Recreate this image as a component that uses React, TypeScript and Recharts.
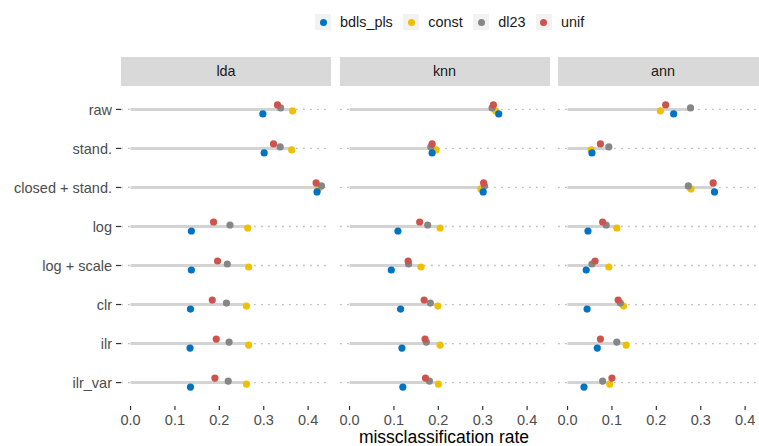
import React from 'react';
import { ScatterChart, Scatter, XAxis, YAxis, CartesianGrid, ReferenceLine } from 'recharts';

const methods = ['raw', 'stand.', 'closed + stand.', 'log', 'log + scale', 'clr', 'ilr', 'ilr_var'];
const facets = ['lda', 'knn', 'ann'];
const seriesNames = ['bdls_pls', 'const', 'dl23', 'unif'];
const xTicks = [0, 0.1, 0.2, 0.3, 0.4];

// missclassification rate per facet, one array per imputation method (order = methods)
const ldaBdls = [0.298, 0.301, 0.420, 0.137, 0.137, 0.135, 0.134, 0.135];
const ldaConst = [0.365, 0.363, 0.423, 0.264, 0.266, 0.261, 0.266, 0.261];
const ldaDl23 = [0.338, 0.337, 0.430, 0.224, 0.218, 0.216, 0.222, 0.220];
const ldaUnif = [0.331, 0.322, 0.418, 0.187, 0.196, 0.184, 0.193, 0.190];

const knnBdls = [0.336, 0.186, 0.301, 0.109, 0.094, 0.115, 0.118, 0.120];
const knnConst = [0.329, 0.195, 0.296, 0.204, 0.161, 0.199, 0.204, 0.200];
const knnDl23 = [0.321, 0.183, 0.304, 0.176, 0.133, 0.182, 0.173, 0.180];
const knnUnif = [0.324, 0.186, 0.302, 0.158, 0.132, 0.168, 0.170, 0.171];

const annBdls = [0.239, 0.055, 0.331, 0.046, 0.042, 0.044, 0.067, 0.037];
const annConst = [0.209, 0.053, 0.278, 0.111, 0.093, 0.126, 0.132, 0.095];
const annDl23 = [0.277, 0.093, 0.272, 0.087, 0.055, 0.119, 0.111, 0.079];
const annUnif = [0.221, 0.074, 0.328, 0.079, 0.062, 0.114, 0.074, 0.100];

const facetValues = [
  [ldaBdls, ldaConst, ldaDl23, ldaUnif],
  [knnBdls, knnConst, knnDl23, knnUnif],
  [annBdls, annConst, annDl23, annUnif],
];

const colors = ['#0073C2', '#EFC000', '#868686', '#CD534C'];
const dodge = [4.5, 1.5, -1.5, -4.5]; // px, vertical dodge per series
const drawOrder = [1, 2, 0, 3];

const FONT = '"Liberation Sans", Arial, sans-serif';

const DodgeDot = (props: any) => {
  const { cx, cy, fill, offset } = props;
  if (cx == null || cy == null) return null;
  return <circle cx={cx} cy={cy + offset} r={3.6} fill={fill} />;
};

// grid only at the category rows, computed with the y axis scale
const rowGrid = (props: any) => {
  const scale = props?.yAxis?.scale;
  if (!scale) return [];
  const fn = typeof scale === 'function' ? scale : scale.map;
  return methods.map((_, i) => fn(i));
};

const Panel = ({ idx, left, width, showY }: { idx: number; left: number; width: number; showY: boolean }) => {
  const vals = facetValues[idx];
  const maxes = methods.map((_, i) => Math.max(...vals.map((s) => s[i])));
  return (
    <div style={{ position: 'absolute', left, top: 76 }}>
      <ScatterChart width={width} height={370} margin={{ top: 10, right: 0, bottom: 0, left: 0 }}>
        <CartesianGrid
          vertical={false}
          stroke="#bebebe"
          strokeWidth={1.3}
          strokeDasharray="1.75 5.25"
          horizontalCoordinatesGenerator={rowGrid}
        />
        <XAxis
          type="number"
          dataKey="v"
          domain={[-0.0215, 0.4515]}
          ticks={xTicks}
          allowDataOverflow
          tickFormatter={(v: number) => v.toFixed(1)}
          axisLine={false}
          tickSize={4}
          tickMargin={5}
          height={40}
          tickLine={{ stroke: '#333333', strokeWidth: 1.2 }}
          tick={{ fill: '#4d4d4d', fontSize: 14.5, fontFamily: FONT }}
        />
        <YAxis
          type="number"
          dataKey="row"
          domain={[-0.6, 7.6]}
          reversed
          ticks={methods.map((_, i) => i)}
          interval={0}
          allowDataOverflow
          hide={!showY}
          width={121}
          axisLine={false}
          tickSize={5}
          tickMargin={4}
          tickLine={{ stroke: '#333333', strokeWidth: 1.2 }}
          tickFormatter={(i: number) => methods[i]}
          tick={{ fill: '#4d4d4d', fontSize: 14.5, fontFamily: FONT }}
        />
        {methods.map((m, i) => (
          <ReferenceLine
            key={m}
            segment={[{ x: 0, y: i }, { x: maxes[i], y: i }]}
            stroke="#d3d3d3"
            strokeWidth={3}
            ifOverflow="visible"
          />
        ))}
        {drawOrder.map((s) => (
          <Scatter
            key={seriesNames[s]}
            name={seriesNames[s]}
            data={methods.map((_, i) => ({ v: vals[s][i], row: i }))}
            fill={colors[s]}
            isAnimationActive={false}
            shape={(p: any) => <DodgeDot {...p} fill={colors[s]} offset={dodge[s]} />}
          />
        ))}
      </ScatterChart>
    </div>
  );
};

const strips = [
  { left: 121, width: 210 },
  { left: 339.5, width: 210 },
  { left: 558, width: 210 },
];

export default function App() {
  return (
    <div
      style={{
        position: 'absolute',
        left: 0,
        top: 0,
        width: 759,
        height: 446,
        overflow: 'hidden',
        background: '#ffffff',
        fontFamily: FONT,
      }}
    >
      {/* legend */}
      <div style={{ position: 'absolute', left: 315, top: 14, height: 16, display: 'flex', alignItems: 'center' }}>
        {seriesNames.map((n, i) => (
          <div key={n} style={{ display: 'flex', alignItems: 'center', marginRight: 10.5 }}>
            <div
              style={{
                width: 16,
                height: 16,
                background: '#f2f2f2',
                display: 'flex',
                alignItems: 'center',
                justifyContent: 'center',
              }}
            >
              <div style={{ width: 7, height: 7, borderRadius: '50%', background: colors[i] }} />
            </div>
            <span style={{ marginLeft: 9, fontSize: 14.4, color: '#1a1a1a', lineHeight: '16px' }}>{n}</span>
          </div>
        ))}
      </div>

      {/* facet strips */}
      {strips.map((s, i) => (
        <div
          key={facets[i]}
          style={{
            position: 'absolute',
            left: s.left,
            top: 57,
            width: s.width,
            height: 29,
            background: '#d9d9d9',
            color: '#1a1a1a',
            fontSize: 14.4,
            lineHeight: '29px',
            textAlign: 'center',
          }}
        >
          {facets[i]}
        </div>
      ))}

      <Panel idx={0} left={0} width={331} showY />
      <Panel idx={1} left={339.5} width={210} showY={false} />
      <Panel idx={2} left={558} width={210} showY={false} />

      <div
        style={{
          position: 'absolute',
          left: 244,
          top: 428,
          width: 400,
          textAlign: 'center',
          fontSize: 17.5,
          lineHeight: '18px',
          color: '#000000',
        }}
      >
        missclassification rate
      </div>
    </div>
  );
}
